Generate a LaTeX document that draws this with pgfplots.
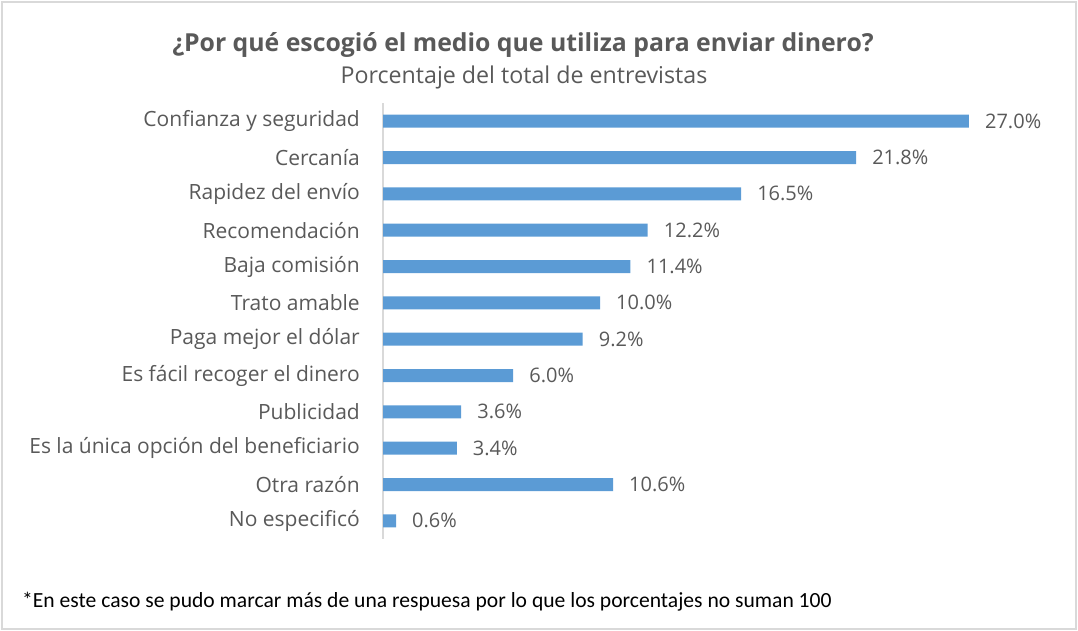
\documentclass[border=0pt]{standalone}
\usepackage{pgfplots}
\pgfplotsset{compat=1.18}
\usepackage{fontspec}
\setmainfont{Open Sans}
\newfontfamily\notefont{Carlito}
\definecolor{barblue}{HTML}{5B9BD5}
\definecolor{txtgray}{HTML}{595959}
\definecolor{linegray}{HTML}{D9D9D9}
\begin{document}
\begin{tikzpicture}[x=1pt,y=1pt]
  % outer frame of the chart area
  \path (0,0) rectangle (1078,-631);
  \draw[linegray, line width=1.5pt] (2,-2) rectangle (1076,-629);
  \node[anchor=base, text=txtgray, font=\fontsize{24.8}{30}\selectfont\bfseries]
    at (523,-52) {¿Por qué escogió el medio que utiliza para enviar dinero?};
  \node[anchor=base, text=txtgray, font=\fontsize{23.2}{28}\selectfont]
    at (524,-84) {Porcentaje del total de entrevistas};
  \node[anchor=base west, text=black, font=\notefont\fontsize{21.6}{26}\selectfont, inner sep=0pt]
    at (22,-607) {*En este caso se pudo marcar más de una respuesa por lo que los porcentajes no suman 100};
  \begin{axis}[
    at={(383pt,-539pt)}, anchor=south west,
    scale only axis, width=651pt, height=436pt,
    xbar, bar width=13pt,
    xmin=0, xmax=30,
    ymin=-0.5, ymax=11.5, y dir=reverse,
    ytick={0,...,11},
    yticklabels={Confianza y seguridad, Cercanía, Rapidez del envío, Recomendación,
      Baja comisión, Trato amable, Paga mejor el dólar, Es fácil recoger el dinero,
      Publicidad, Es la única opción del beneficiario, Otra razón, No especificó},
    axis x line=none,
    axis y line*=left,
    axis line style={linegray, line width=1.2pt},
    y axis line style={-},
    major tick length=0pt,
    yticklabel style={font=\fontsize{21}{25}\selectfont, text=txtgray, inner sep=0pt, xshift=-23pt},
    nodes near coords={\pgfmathprintnumber[fixed, fixed zerofill, precision=1]{\pgfplotspointmeta}\%},
    nodes near coords style={font=\fontsize{20}{24}\selectfont, text=txtgray, anchor=west, inner sep=0pt, xshift=16pt,
      /pgf/number format/assume math mode=true},
    clip=false,
  ]
    \addplot[fill=barblue, draw=none] coordinates {
      (27.0,0) (21.8,1) (16.5,2) (12.2,3) (11.4,4) (10.0,5)
      (9.2,6) (6.0,7) (3.6,8) (3.4,9) (10.6,10) (0.6,11)};
  \end{axis}
\end{tikzpicture}
\end{document}
